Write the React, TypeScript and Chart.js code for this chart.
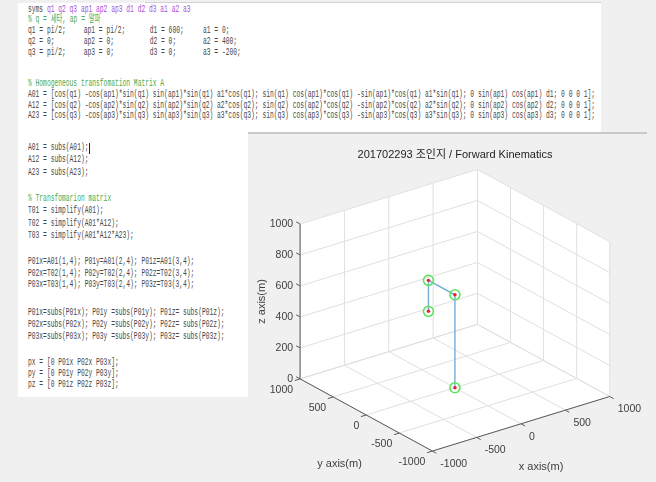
import React, { useEffect, useRef } from "react";
import { Chart, registerables } from "chart.js";

Chart.register(...registerables);

// ---- data ----
const jointX = [0, 0, 0, 0];
const jointY = [0, 0, 400, 400];
const jointZ = [0, 600, 600, 400];

const xTicks = [-1000, -500, 0, 500, 1000];
const yTicks = [-1000, -500, 0, 500, 1000];
const zTicks = [0, 200, 400, 600, 800, 1000];
const xTickLabels = ["-1000", "-500", "0", "500", "1000"];
const yTickLabels = ["-1000", "-500", "0", "500", "1000"];
const zTickLabels = ["0", "200", "400", "600", "800", "1000"];

const titleText = "201702293 조인지 / Forward Kinematics";
const xAxisLabel = "x axis(m)";
const yAxisLabel = "y axis(m)";
const zAxisLabel = "z axis(m)";

// ---- code listing text ----
const K = "#474747";
const P = "#a94ee0";
const G = "#4caa4c";

type Part = [string, string];
type CodeLine = { y: number; parts?: Part[]; cols?: { x: number; t: string }[] };

const codeLines: CodeLine[] = [
  { y: 9.5, parts: [["syms ", K], ["q1 q2 q3 ap1 ap2 ap3 d1 d2 d3 a1 a2 a3", P]] },
  { y: 20, parts: [["% q = 세타, ap = 알파", G]] },
  { y: 31, cols: [{ x: 28, t: "q1 = pi/2;" }, { x: 83.7, t: "ap1 = pi/2;" }, { x: 149.7, t: "d1 = 600;" }, { x: 203, t: "a1 = 0;" }] },
  { y: 42, cols: [{ x: 28, t: "q2 = 0;" }, { x: 83.7, t: "ap2 = 0;" }, { x: 149.7, t: "d2 = 0;" }, { x: 203, t: "a2 = 400;" }] },
  { y: 53, cols: [{ x: 28, t: "q3 = pi/2;" }, { x: 83.7, t: "ap3 = 0;" }, { x: 149.7, t: "d3 = 0;" }, { x: 203, t: "a3 = -200;" }] },
  { y: 84, parts: [["% Homogeneous transfomation Matrix A", G]] },
  { y: 95, parts: [["A01 = [cos(q1) -cos(ap1)*sin(q1) sin(ap1)*sin(q1) a1*cos(q1); sin(q1) cos(ap1)*cos(q1) -sin(ap1)*cos(q1) a1*sin(q1); 0 sin(ap1) cos(ap1) d1; 0 0 0 1];", K]] },
  { y: 105.5, parts: [["A12 = [cos(q2) -cos(ap2)*sin(q2) sin(ap2)*sin(q2) a2*cos(q2); sin(q2) cos(ap2)*cos(q2) -sin(ap2)*cos(q2) a2*sin(q2); 0 sin(ap2) cos(ap2) d2; 0 0 0 1];", K]] },
  { y: 116, parts: [["A23 = [cos(q3) -cos(ap3)*sin(q3) sin(ap3)*sin(q3) a3*cos(q3); sin(q3) cos(ap3)*cos(q3) -sin(ap3)*cos(q3) a3*sin(q3); 0 sin(ap3) cos(ap3) d3; 0 0 0 1];", K]] },
  { y: 148, parts: [["A01 = subs(A01);", K]] },
  { y: 160, parts: [["A12 = subs(A12);", K]] },
  { y: 172.5, parts: [["A23 = subs(A23);", K]] },
  { y: 199, parts: [["% Transfomarion matrix", G]] },
  { y: 211, parts: [["T01 = simplify(A01);", K]] },
  { y: 223.5, parts: [["T02 = simplify(A01*A12);", K]] },
  { y: 236, parts: [["T03 = simplify(A01*A12*A23);", K]] },
  { y: 262, parts: [["P01x=A01(1,4); P01y=A01(2,4); P01z=A01(3,4);", K]] },
  { y: 273.5, parts: [["P02x=T02(1,4); P02y=T02(2,4); P02z=T02(3,4);", K]] },
  { y: 285, parts: [["P03x=T03(1,4); P03y=T03(2,4); P03z=T03(3,4);", K]] },
  { y: 313, parts: [["P01x=subs(P01x); P01y =subs(P01y); P01z= subs(P01z);", K]] },
  { y: 325, parts: [["P02x=subs(P02x); P02y =subs(P02y); P02z= subs(P02z);", K]] },
  { y: 337, parts: [["P03x=subs(P03x); P03y =subs(P03y); P03z= subs(P03z);", K]] },
  { y: 363, parts: [["px = [0 P01x P02x P03x];", K]] },
  { y: 374, parts: [["py = [0 P01y P02y P03y];", K]] },
  { y: 385, parts: [["pz = [0 P01z P02z P03z];", K]] },
];

// ---- view / layout ----
const CW = 408;
const CH = 348;
const FIG_LEFT = 248;
const FIG_TOP = 134;
const VIEW = { ox: 183.7, oy: 322.7, ex: [183.3, -56.7], ey: [-136.7, -75], ez: [0, -161] };
const XR = [-1000, 1000];
const YR = [-1000, 1000];
const ZR = [0, 1000];

function project(x: number, y: number, z: number) {
  const u = (x - XR[0]) / (XR[1] - XR[0]);
  const v = (y - YR[0]) / (YR[1] - YR[0]);
  const w = (z - ZR[0]) / (ZR[1] - ZR[0]);
  return {
    x: VIEW.ox + u * VIEW.ex[0] + v * VIEW.ey[0] + w * VIEW.ez[0],
    y: VIEW.oy + u * VIEW.ex[1] + v * VIEW.ey[1] + w * VIEW.ez[1],
  };
}

type P3 = [number, number, number];
function segs(list: [P3, P3][]) {
  const out: any[] = [];
  list.forEach(([a, b]) => {
    out.push(project(...a), project(...b), { x: null, y: null });
  });
  return out;
}

const FONT = '"Liberation Sans", "Noto Sans CJK KR", Arial, sans-serif';

export default function App() {
  const ref = useRef<HTMLCanvasElement>(null);

  useEffect(() => {
    const canvas = ref.current;
    if (!canvas) return;

    const [x0, x1] = XR;
    const [y0, y1] = YR;
    const [z0, z1] = ZR;

    const grid: [P3, P3][] = [];
    xTicks.forEach((c) => {
      grid.push([[c, y0, z0], [c, y1, z0]]);
      grid.push([[c, y1, z0], [c, y1, z1]]);
    });
    yTicks.forEach((c) => {
      grid.push([[x0, c, z0], [x1, c, z0]]);
      grid.push([[x1, c, z0], [x1, c, z1]]);
    });
    zTicks.forEach((c) => {
      grid.push([[x0, y1, c], [x1, y1, c]]);
      grid.push([[x1, y0, c], [x1, y1, c]]);
    });

    const axes: [P3, P3][] = [
      [[x0, y1, z0], [x0, y1, z1]],
      [[x0, y0, z0], [x0, y1, z0]],
      [[x0, y0, z0], [x1, y0, z0]],
    ];

    const tl = 60;
    const tickSegs: [P3, P3][] = [];
    zTicks.forEach((c) => tickSegs.push([[x0, y1, c], [x0, y1 + tl, c]]));
    xTicks.forEach((c) => tickSegs.push([[c, y0, z0], [c, y0 - tl, z0]]));
    yTicks.forEach((c) => tickSegs.push([[x0, c, z0], [x0 - tl, c, z0]]));

    const joints = jointX.map((_, i) => project(jointX[i], jointY[i], jointZ[i]));

    const plugin = {
      id: "box3d",
      beforeDatasetsDraw(chart: any) {
        const { ctx } = chart;
        const sx = chart.scales.x;
        const sy = chart.scales.y;
        const corners: P3[] = [
          [x0, y1, z1], [x1, y1, z1], [x1, y0, z1], [x1, y0, z0], [x0, y0, z0], [x0, y1, z0],
        ];
        ctx.save();
        ctx.beginPath();
        corners.forEach((c, i) => {
          const p = project(...c);
          const px = sx.getPixelForValue(p.x);
          const py = sy.getPixelForValue(p.y);
          if (i === 0) ctx.moveTo(px, py);
          else ctx.lineTo(px, py);
        });
        ctx.closePath();
        ctx.fillStyle = "#ffffff";
        ctx.fill();
        ctx.restore();
      },
      afterDatasetsDraw(chart: any) {
        const { ctx } = chart;
        const sx = chart.scales.x;
        const sy = chart.scales.y;
        const at = (x: number, y: number, z: number) => {
          const p = project(x, y, z);
          return [sx.getPixelForValue(p.x), sy.getPixelForValue(p.y)];
        };
        ctx.save();
        ctx.fillStyle = "#1e1e1e";
        ctx.font = `11px ${FONT}`;
        ctx.textAlign = "center";
        ctx.textBaseline = "middle";
        ctx.fillText(titleText, 207, 21);

        ctx.fillStyle = "#404040";
        ctx.font = `10.5px ${FONT}`;
        ctx.textAlign = "right";
        zTicks.forEach((c, i) => {
          const [px, py] = at(x0, y1, c);
          ctx.fillText(zTickLabels[i], px - 7, py);
        });
        yTicks.forEach((c, i) => {
          const [px, py] = at(x0, c, z0);
          ctx.fillText(yTickLabels[i], px - 7, py + 11.5);
        });
        ctx.textAlign = "left";
        xTicks.forEach((c, i) => {
          const [px, py] = at(c, y0, z0);
          ctx.fillText(xTickLabels[i], px + 8, py + 13);
        });

        ctx.font = `11px ${FONT}`;
        ctx.textAlign = "center";
        {
          const [px, py] = at(0, y0, z0);
          ctx.fillText(xAxisLabel, px + 20, py + 43);
        }
        {
          const [px, py] = at(x0, 0, z0);
          ctx.fillText(yAxisLabel, px - 26.7, py + 49);
        }
        {
          const [px, py] = at(x0, y1, (z0 + z1) / 2);
          ctx.translate(px - 38.3, py);
          ctx.rotate(-Math.PI / 2);
          ctx.fillText(zAxisLabel, 0, 0);
        }
        ctx.restore();
      },
    };

    const chart = new Chart(canvas, {
      type: "scatter",
      data: {
        datasets: [
          {
            data: joints,
            pointRadius: 1.7,
            pointBackgroundColor: "#e8202a",
            pointBorderWidth: 0,
            showLine: false,
            order: 1,
          },
          {
            data: joints,
            pointRadius: 5,
            pointBorderColor: "#5ee35e",
            pointBackgroundColor: "rgba(0,0,0,0)",
            pointBorderWidth: 1.6,
            showLine: false,
            order: 2,
          },
          {
            data: joints,
            showLine: true,
            borderColor: "#74acd4",
            borderWidth: 1.4,
            pointRadius: 0,
            order: 3,
          },
          {
            data: segs(axes),
            showLine: true,
            borderColor: "#5a5a5a",
            borderWidth: 1,
            pointRadius: 0,
            order: 4,
          },
          {
            data: segs(tickSegs),
            showLine: true,
            borderColor: "#5a5a5a",
            borderWidth: 1,
            pointRadius: 0,
            order: 5,
          },
          {
            data: segs(grid),
            showLine: true,
            borderColor: "#e0e0e0",
            borderWidth: 1,
            pointRadius: 0,
            order: 6,
          },
        ] as any,
      },
      options: {
        responsive: false,
        maintainAspectRatio: false,
        animation: false,
        events: [],
        layout: { padding: 0 },
        elements: { line: { tension: 0 } },
        plugins: {
          legend: { display: false },
          tooltip: { enabled: false },
          title: { display: false },
        },
        scales: {
          x: { type: "linear", min: 0, max: CW, display: false },
          y: { type: "linear", min: 0, max: CH, reverse: true, display: false },
        },
      },
      plugins: [plugin],
    });
    return () => chart.destroy();
  }, []);

  const SX = 0.63;
  const codeFont = '"Liberation Mono", "DejaVu Sans Mono", "Noto Sans CJK KR", monospace';

  return (
    <div
      style={{
        position: "fixed",
        left: 0,
        top: 0,
        width: 656,
        height: 482,
        background: "#f0f0f0",
        overflow: "hidden",
      }}
    >
      <div style={{ position: "absolute", left: 18, top: 3, width: 583, height: 131, background: "#ffffff" }} />
      <div style={{ position: "absolute", left: 18, top: 133, width: 230, height: 264, background: "#ffffff" }} />
      <div style={{ position: "absolute", left: 145, top: 2, width: 456, height: 1, background: "#d2d2d2" }} />
      <div
        style={{
          position: "absolute",
          left: 28,
          top: 0,
          width: 1000,
          height: 400,
          transform: `scaleX(${SX})`,
          transformOrigin: "0 0",
          fontFamily: codeFont,
          fontSize: 10,
          lineHeight: "10px",
          whiteSpace: "pre",
        }}
      >
        {codeLines.map((ln, i) =>
          ln.cols ? (
            ln.cols.map((c, j) => (
              <div key={`${i}-${j}`} style={{ position: "absolute", left: (c.x - 28) / SX, top: ln.y - 5, color: K }}>
                {c.t}
              </div>
            ))
          ) : (
            <div key={i} style={{ position: "absolute", left: 0, top: ln.y - 5 }}>
              {ln.parts!.map((p, j) => (
                <span key={j} style={{ color: p[1] }}>
                  {p[0]}
                </span>
              ))}
            </div>
          )
        )}
      </div>
      <div style={{ position: "absolute", left: 89, top: 143, width: 1, height: 11, background: "#222" }} />
      <div
        style={{
          position: "absolute",
          left: FIG_LEFT,
          top: FIG_TOP - 2,
          width: 399,
          height: 350,
          background: "#f0f0f0",
          borderTop: "2px solid #c8c8c8",
          boxSizing: "border-box",
        }}
      />
      <canvas
        ref={ref}
        width={CW}
        height={CH}
        style={{ position: "absolute", left: FIG_LEFT, top: FIG_TOP, width: CW, height: CH }}
      />
    </div>
  );
}
